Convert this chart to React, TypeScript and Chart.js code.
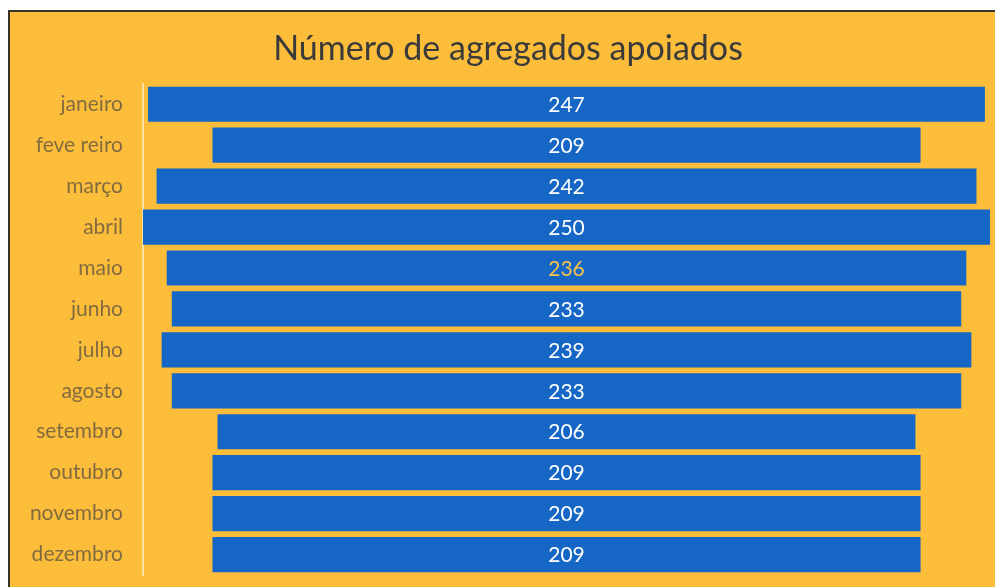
import React, { useEffect, useRef } from "react";
import { Chart, registerables } from "chart.js";

Chart.register(...registerables);

const categories = [
  "janeiro", "feve reiro", "março", "abril", "maio", "junho",
  "julho", "agosto", "setembro", "outubro", "novembro", "dezembro",
];
const values = [247, 209, 242, 250, 236, 233, 239, 233, 206, 209, 209, 209];
const labelColors = [
  "#ffffff", "#ffffff", "#ffffff", "#ffffff", "#f6c24c", "#ffffff",
  "#ffffff", "#ffffff", "#ffffff", "#ffffff", "#ffffff", "#ffffff",
];
const titleText = "Número de agregados apoiados";

const FONT = "Lato, 'Open Sans', sans-serif";

const centerLabels = {
  id: "centerLabels",
  afterDatasetsDraw(chart: any) {
    const ctx = chart.ctx;
    const meta = chart.getDatasetMeta(0);
    ctx.save();
    ctx.font = `21px ${FONT}`;
    ctx.textAlign = "center";
    ctx.textBaseline = "middle";
    meta.data.forEach((bar: any, i: number) => {
      const x = (bar.x + bar.base) / 2;
      ctx.fillStyle = labelColors[i];
      ctx.fillText(String(values[i]), x, bar.y + 1);
    });
    ctx.restore();
  },
};

export default function App() {
  const ref = useRef<HTMLCanvasElement | null>(null);
  useEffect(() => {
    if (!ref.current) return;
    const chart = new Chart(ref.current, {
      type: "bar",
      data: {
        labels: categories,
        datasets: [
          {
            data: values.map((v) => [-v / 2, v / 2]) as any,
            backgroundColor: "#1666c6",
            borderWidth: 0,
            barPercentage: 0.86,
            categoryPercentage: 1,
          },
        ],
      },
      options: {
        indexAxis: "y",
        animation: false,
        responsive: false,
        maintainAspectRatio: false,
        layout: { padding: { top: 17, right: 5, bottom: 12, left: 16 } },
        plugins: {
          legend: { display: false },
          tooltip: { enabled: false },
          title: {
            display: true,
            text: titleText,
            color: "#3a3a3a",
            font: { family: FONT, size: 34, weight: "normal" },
            padding: { top: 0, bottom: 14 },
          },
        },
        scales: {
          x: {
            type: "linear",
            min: -125,
            max: 125,
            display: false,
          },
          y: {
            type: "category",
            offset: true,
            afterFit(scale: any) {
              scale.width = 117;
              scale.paddingTop = 0;
              scale.paddingBottom = 0;
            },
            grid: { display: false, drawTicks: false },
            border: { display: true, color: "#fde0a0", width: 2 },
            ticks: {
              color: "#836b40",
              padding: 20,
              font: { family: FONT, size: 21 },
            },
          },
        },
      },
      plugins: [centerLabels],
    });
    return () => chart.destroy();
  }, []);

  return (
    <div
      style={{
        position: "fixed",
        left: 0,
        top: 0,
        width: 995,
        height: 587,
        background: "#ffffff",
        overflow: "hidden",
      }}
    >
      <div
        style={{
          position: "absolute",
          left: 8,
          top: 10,
          width: 987,
          height: 577,
          background: "#fbbd3a",
          borderLeft: "2px solid #3a3528",
          borderTop: "2px solid #3a3528",
          boxSizing: "border-box",
        }}
      />
      <canvas
        ref={ref}
        width={985}
        height={575}
        style={{ position: "absolute", left: 10, top: 12, width: 985, height: 575 }}
      />
    </div>
  );
}
